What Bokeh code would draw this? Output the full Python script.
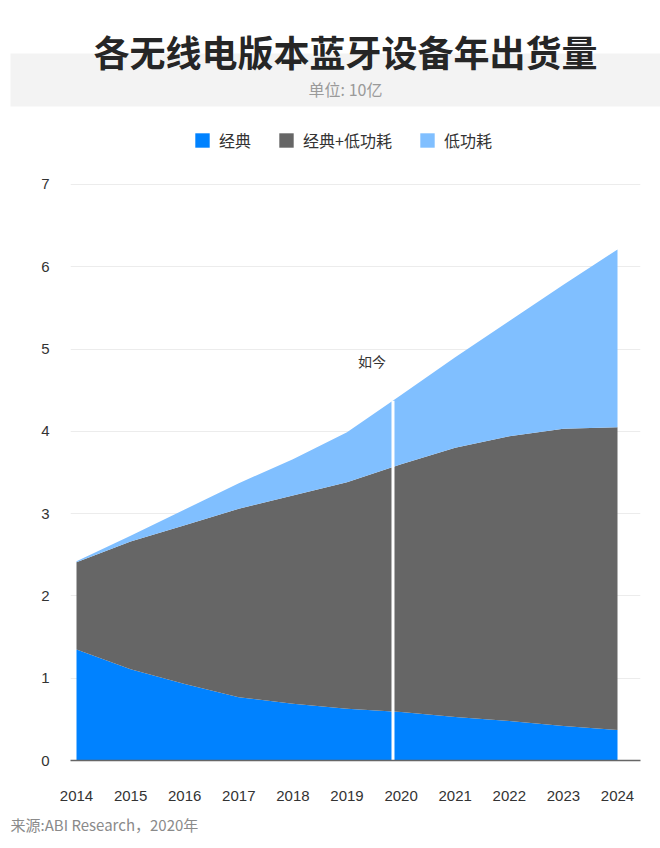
import numpy as np
from bokeh.plotting import figure
from bokeh.layouts import column
from bokeh.models import FixedTicker, Range1d, ColumnDataSource
from bokeh.core.properties import value
from bokeh.embed import file_html
from bokeh.resources import INLINE

# ---------------- data ----------------
title_text = "各无线电版本蓝牙设备年出货量"
subtitle_text = "单位: 10亿"
source_text = "来源:ABI Research，2020年"
now_text = "如今"

years = [2014, 2015, 2016, 2017, 2018, 2019, 2020, 2021, 2022, 2023, 2024]
classic = [1.35, 1.11, 0.93, 0.77, 0.69, 0.63, 0.59, 0.53, 0.48, 0.42, 0.37]
dual_mode = [1.06, 1.55, 1.93, 2.29, 2.53, 2.75, 3.01, 3.27, 3.46, 3.61, 3.68]
low_energy = [0.01, 0.07, 0.19, 0.31, 0.44, 0.61, 0.84, 1.10, 1.40, 1.75, 2.16]
series_names = ["经典", "经典+低功耗", "低功耗"]
series_colors = ["#0082ff", "#666666", "#80bfff"]
y_ticks = [0, 1, 2, 3, 4, 5, 6, 7]
now_year = 2019.85

CJK = "Noto Sans CJK SC"
LATIN = "Liberation Sans"

# ---------------- header ----------------
W = 660
header = figure(width=W, height=118, x_range=Range1d(0, 660), y_range=Range1d(118, 0),
                toolbar_location=None, output_backend="svg",
                x_axis_location=None, y_axis_location=None,
                min_border=0, outline_line_color=None)
header.frame_align = False
header.grid.visible = False
header.quad(left=[10], right=[660], top=[53], bottom=[106], color="#f3f3f3", line_color=None)
header.text(x=[345], y=[50], text=[title_text], text_align="center", text_baseline="middle",
            text_font=value(CJK), text_font_style="bold", text_font_size="36px", text_color="#262626")
header.text(x=[345], y=[88], text=[subtitle_text], text_align="center", text_baseline="middle",
            text_font=value(CJK), text_font_size="16px", text_color="#9a9a9a")

# ---------------- main chart ----------------
src = ColumnDataSource(dict(year=years, classic=classic, dual=dual_mode, le=low_energy))

p = figure(width=W, height=690, x_range=Range1d(2013.889, 2024.425), y_range=Range1d(0, 7.716),
           toolbar_location=None, output_backend="svg",
           min_border_left=70, min_border_right=20, min_border_top=7, min_border_bottom=48)
p.frame_align = False
p.outline_line_color = None

p.varea_stack(stackers=["classic", "dual", "le"], x="year", color=series_colors,
              legend_label=series_names, source=src)

total = np.array(classic) + np.array(dual_mode) + np.array(low_energy)
now_top = float(np.interp(now_year, years, total))
p.segment(x0=[now_year], y0=[0], x1=[now_year], y1=[now_top], line_color="white", line_width=3)
p.text(x=[now_year], y=[now_top + 0.48], text=[now_text], text_align="right", text_baseline="middle",
       x_offset=-7, text_font=value(CJK), text_font_size="14px", text_color="#333333")

p.xgrid.visible = False
p.ygrid.ticker = FixedTicker(ticks=y_ticks)
p.ygrid.grid_line_color = "#ececec"
p.ygrid.grid_line_width = 1

p.yaxis.ticker = FixedTicker(ticks=y_ticks)
p.yaxis.axis_line_color = None
p.yaxis.major_tick_line_color = None
p.yaxis.minor_tick_line_color = None
p.yaxis.major_label_standoff = 15
p.yaxis.major_label_text_font = LATIN
p.yaxis.major_label_text_font_size = "15px"
p.yaxis.major_label_text_color = "#333333"

p.xaxis.ticker = FixedTicker(ticks=years)
p.xaxis.axis_line_color = "#666666"
p.xaxis.axis_line_width = 1.5
p.xaxis.major_tick_line_color = None
p.xaxis.minor_tick_line_color = None
p.xaxis.major_label_standoff = 24
p.xaxis.major_label_text_font = LATIN
p.xaxis.major_label_text_font_size = "15px"
p.xaxis.major_label_text_color = "#333333"

lg = p.legend[0]
lg.location = (123, 608)
lg.orientation = "horizontal"
lg.padding = 0
lg.margin = 0
lg.spacing = 26
lg.glyph_width = 18
lg.glyph_height = 18
lg.label_height = 18
lg.label_standoff = 8
lg.label_text_font = CJK
lg.label_text_font_size = "16px"
lg.label_text_color = "#333333"
lg.border_line_color = None
lg.background_fill_alpha = 0

# ---------------- footer ----------------
footer = figure(width=W, height=40, x_range=Range1d(0, 660), y_range=Range1d(848, 808),
                toolbar_location=None, output_backend="svg",
                x_axis_location=None, y_axis_location=None,
                min_border=0, outline_line_color=None)
footer.frame_align = False
footer.grid.visible = False
footer.text(x=[10], y=[824], text=[source_text], text_align="left", text_baseline="middle",
            text_font=value(CJK), text_font_size="15px", text_color="#8a8a8a")

layout = column(header, p, footer, spacing=0)
open("out.html", "w").write(file_html(layout, INLINE))
